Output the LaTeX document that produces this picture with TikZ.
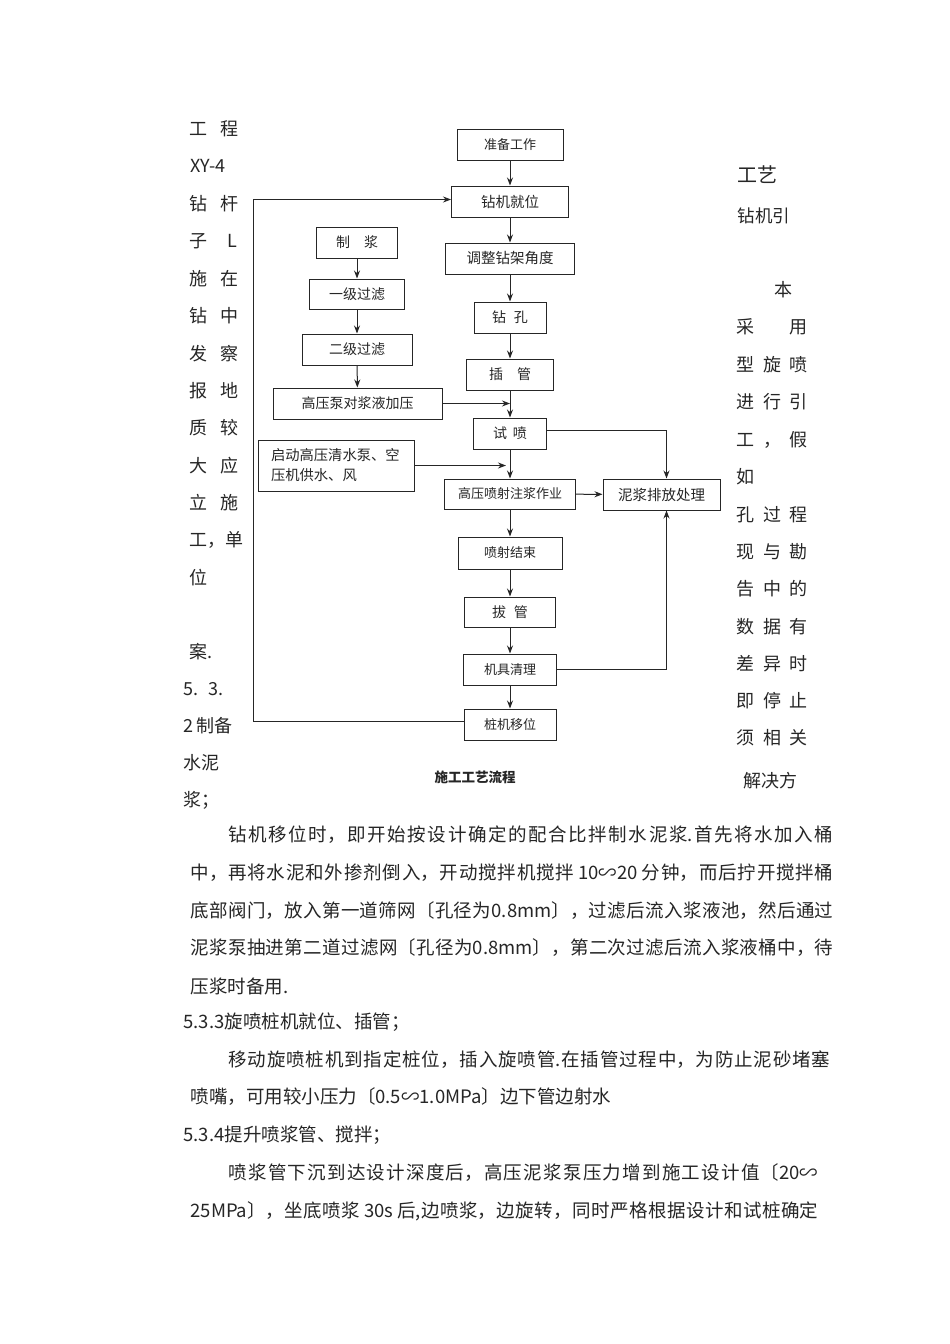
\documentclass[tikz,border=0pt]{standalone}
\usepackage{fontspec}
\setmainfont{Noto Sans CJK SC}
\usetikzlibrary{arrows.meta}
\XeTeXlinebreaklocale "zh"
\XeTeXlinebreakskip=0pt plus 3pt minus 0.5pt
\newcommand{\lgap}{\hspace{13pt}}
\newcommand{\rgap}{\hspace{8.5pt}}
\newcommand{\fullline}[2]{\parbox{#1}{\parfillskip=0pt\relax #2}}
\begin{document}
\begin{tikzpicture}
[x=1pt, y=-1pt, >={Stealth[length=8pt, width=6pt]}, line width=1pt, color=black!85,
 box/.style={draw, rectangle, inner sep=0pt, minimum height=31pt, font=\fontsize{14}{16}\selectfont},
 bodyline/.style={anchor=west, inner sep=0pt, font=\fontsize{18.5}{20}\selectfont},
 side/.style={anchor=west, inner sep=0pt, font=\fontsize{18}{20}\selectfont}]
\useasboundingbox (0,0) rectangle (950,1344);
\fill[white] (0,0) rectangle (950,1344);

% main column
\node[box, minimum width=106pt, font=\fontsize{13}{16}\selectfont] (prep) at (510,145) {准备工作};
\node[box, minimum width=117pt, font=\fontsize{14.5}{16}\selectfont] (pos) at (510,201.5) {钻机就位};
\node[box, minimum width=129pt, font=\fontsize{14.5}{16}\selectfont] (adjust) at (510,258.5) {调整钻架角度};
\node[box, minimum width=72pt] (drill) at (510,317.5) {钻\hspace{8pt}孔};
\node[box, minimum width=87pt] (insert) at (510,374.5) {插\hspace{14pt}管};
\node[box, minimum width=73pt] (trial) at (510,433.5) {试\hspace{6pt}喷};
\node[box, minimum width=131pt, minimum height=30pt, font=\fontsize{13}{16}\selectfont] (jet) at (510,494) {高压喷射注浆作业};
\node[box, minimum width=104pt, minimum height=32pt, font=\fontsize{13}{16}\selectfont] (endjet) at (510,553) {喷射结束};
\node[box, minimum width=91pt, minimum height=30pt] (pull) at (510,612) {拔\hspace{8pt}管};
\node[box, minimum width=93pt, font=\fontsize{13}{16}\selectfont] (clean) at (510,669.5) {机具清理};
\node[box, minimum width=92pt, font=\fontsize{13}{16}\selectfont] (move) at (510,724.5) {桩机移位};
\node[box, minimum width=117pt, font=\fontsize{14.5}{16}\selectfont] (mud) at (661.5,494.5) {泥浆排放处理};

% slurry column
\node[box, minimum width=81pt] (mix) at (357,242.5) {制\hspace{14pt}浆};
\node[box, minimum width=95pt, minimum height=30pt] (filter1) at (357,294) {一级过滤};
\node[box, minimum width=110pt] (filter2) at (357,349.5) {二级过滤};
\node[box, minimum width=169pt] (pump) at (357.5,403.5) {高压泵对浆液加压};
\node[box, minimum width=156pt, minimum height=51pt, align=left, text width=130pt,
      font=\fontsize{14.3}{20}\selectfont] (water) at (336,465.5) {启动高压清水泵、空\\压机供水、风};

\draw[->] (prep) -- (pos);
\draw[->] (pos) -- (adjust);
\draw[->] (adjust) -- (drill);
\draw[->] (drill) -- (insert);
\draw[->] (insert) -- (trial);
\draw[->] (trial) -- (jet);
\draw[->] (jet) -- (endjet);
\draw[->] (endjet) -- (pull);
\draw[->] (pull) -- (clean);
\draw[->] (clean) -- (move);

\draw[->] (mix) -- (filter1);
\draw[->] (filter1) -- (filter2);
\draw[->] (filter2) -- (pump);
\draw[->] (pump.east) -- (pump.east -| insert.south);
\draw[->] (water.east) -- ([xshift=-4pt]water.east -| trial.south);

\draw[->] ([yshift=3pt]trial.east) -| ([xshift=5pt]mud.north);
\draw[->] (jet) -- (mud);
\draw[->] (clean) -| ([xshift=5pt]mud.south);

\coordinate (back) at (253,0);
\draw[->, line width=0.8pt] ([yshift=3pt]move.west) -- ([yshift=3pt]move.west -| back)
  |- ([yshift=2pt]pos.west);

\node[font=\fontsize{13.5}{16}\selectfont\bfseries] (caption) at (475,777) {施工工艺流程};

% left column of text
\foreach \t/\x/\y [count=\i] in {工\lgap 程/189/129, XY-4/190/166, 钻\lgap 杆/189/204,
  子\hspace{20pt}L/189/241, 施\lgap 在/189/279, 钻\lgap 中/189/316, 发\lgap 察/189/354,
  报\lgap 地/189/391, 质\lgap 较/189/428, 大\lgap 应/189/466, 立\lgap 施/189/503,
  工，单/189/540, 位/189/578, 案./189/652, 5.\hspace{10pt}3./183/689, 2\hspace{3pt}制备/183/726,
  水泥/183/763, 浆；/183/800}
  \node[side] (left\i) at (\x,\y) {\t};

% right column of text
\node[side, font=\fontsize{20}{22}\selectfont] (right0) at (737,175) {工艺};
\node[side, font=\fontsize{17.5}{20}\selectfont] (rightA) at (737,216) {钻机引};
\foreach \t/\x/\y [count=\i] in {本/774/290, 采\hspace{35pt}用/736/327, 型\rgap 旋\rgap 喷/736/365,
  进\rgap 行\rgap 引/736/402, 工\rgap ，\rgap 假/736/440, 如/736/477, 孔\rgap 过\rgap 程/736/515,
  现\rgap 与\rgap 勘/736/552, 告\rgap 中\rgap 的/736/589, 数\rgap 据\rgap 有/736/627,
  差\rgap 异\rgap 时/736/664, 即\rgap 停\rgap 止/736/701, 须\rgap 相\rgap 关/736/738,
  解决方/743/781}
  \node[side] (right\i) at (\x,\y) {\t};

% body text
\node[bodyline] (para1) at (228,835) {\fullline{605pt}{钻机移位时，即开始按设计确定的配合比拌制水泥浆.首先将水加入桶}};
\node[bodyline] (para2) at (190,873) {\fullline{643pt}{中，再将水泥和外掺剂倒入，开动搅拌机搅拌\hspace{4pt}10∽20\hspace{4pt}分钟，而后拧开搅拌桶}};
\node[bodyline] (para3) at (190,911) {\fullline{643pt}{底部阀门，放入第一道筛网〔孔径为0.8mm〕，过滤后流入浆液池，然后通过}};
\node[bodyline] (para4) at (190,948) {\fullline{643pt}{泥浆泵抽进第二道过滤网〔孔径为0.8mm〕，第二次过滤后流入浆液桶中，待}};
\node[bodyline] (para5) at (190,986) {压浆时备用.};
\node[bodyline] (head3) at (183,1022) {5.3.3旋喷桩机就位、插管；};
\node[bodyline] (para6) at (228,1060) {\fullline{602pt}{移动旋喷桩机到指定桩位，插入旋喷管.在插管过程中，为防止泥砂堵塞}};
\node[bodyline] (para7) at (190,1097) {喷嘴，可用较小压力〔0.5∽1.0MPa〕边下管边射水};
\node[bodyline] (head4) at (183,1135) {5.3.4提升喷浆管、搅拌；};
\node[bodyline] (para8) at (228,1173) {\fullline{590pt}{喷浆管下沉到达设计深度后，高压泥浆泵压力增到施工设计值〔20∽}};
\node[bodyline] (para9) at (190,1211) {\fullline{628pt}{25MPa〕，坐底喷浆\hspace{4pt}30s\hspace{4pt}后,边喷浆，边旋转，同时严格根据设计和试桩确定}};
\end{tikzpicture}
\end{document}
